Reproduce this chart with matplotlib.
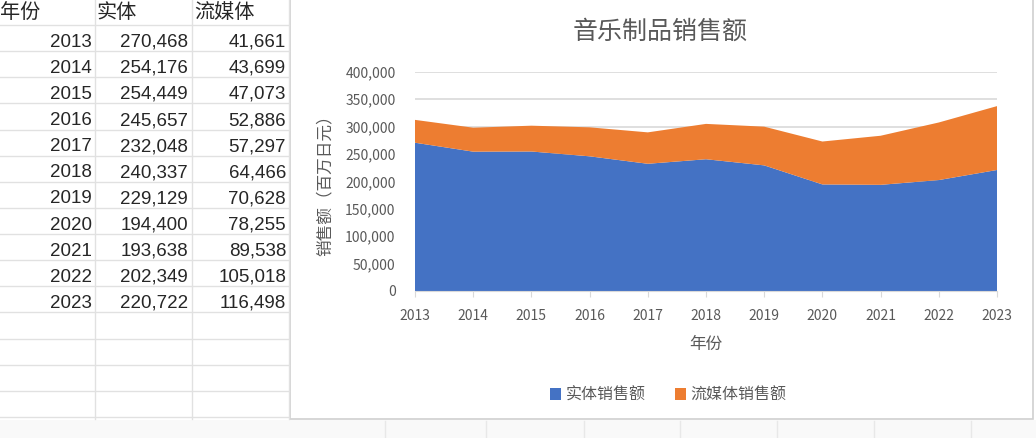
import numpy as np
import matplotlib.pyplot as plt
from matplotlib.patches import Rectangle

plt.rcParams['font.family'] = ['Noto Sans CJK SC', 'DejaVu Sans']

# 数据
years = [2013, 2014, 2015, 2016, 2017, 2018, 2019, 2020, 2021, 2022, 2023]
physical = [270468, 254176, 254449, 245657, 232048, 240337, 229129, 194400, 193638, 202349, 220722]
streaming = [41661, 43699, 47073, 52886, 57297, 64466, 70628, 78255, 89538, 105018, 116498]
headers = ['年份', '实体', '流媒体']

W, H = 1036, 438
fig = plt.figure(figsize=(W / 100, H / 100), dpi=100)

# 背景：表格区域 (像素坐标)
bg = fig.add_axes([0, 0, 1, 1])
bg.set_xlim(0, W)
bg.set_ylim(H, 0)
bg.axis('off')

grid_c = '#E1E1E1'
row_h = 26.13
col_x = [95, 192, 289]
for x in col_x:
    bg.plot([x, x], [0, 419], color=grid_c, lw=1)
for k in range(16):
    y = 25 + k * row_h
    bg.plot([0, 289], [y, y], color=grid_c, lw=1)

# 表头
txt_c = '#262626'
head_x = [0, 97, 194]
for hx, h in zip(head_x, headers):
    bg.text(hx, 23, h, fontsize=14.5, color=txt_c, ha='left', va='bottom')

# 表格数据
right_x = [92, 188, 286]
for i, yr in enumerate(years):
    y = 25 + (i + 1) * row_h - 0.5
    vals = [str(yr), f'{physical[i]:,}', f'{streaming[i]:,}']
    for rx, v in zip(right_x, vals):
        bg.text(rx, y, v, fontsize=13.5, color=txt_c, ha='right', va='bottom',
                family=['Liberation Sans', 'DejaVu Sans'])

# 图表边框
bg.add_patch(Rectangle((290, -2), 743, 421, facecolor='white', edgecolor='#D0D0D0', lw=1.2))
bg.add_patch(Rectangle((0, 420), W, 18, facecolor='#F9F9F9', edgecolor='none'))
for x in [385, 486, 584, 680, 777, 874, 971]:
    bg.plot([x, x], [421, 438], color='#E8E8E8', lw=1)

# 面积图
ax = fig.add_axes([415 / W, 1 - 291 / H, (997 - 415) / W, (291 - 71.7) / H])
ax.stackplot(years, physical, streaming, colors=['#4472C4', '#ED7D31'],
             labels=['实体销售额', '流媒体销售额'])
ax.set_xlim(years[0], years[-1])
ax.set_ylim(0, 400000)
ax.set_yticks(np.arange(0, 400001, 50000))
ax.yaxis.set_major_formatter(plt.FuncFormatter(lambda v, p: f'{int(v):,}'))
ax.set_xticks(years)
ax.grid(axis='y', color='#D9D9D9', lw=1.2)
ax.set_axisbelow(True)
for s in ['top', 'right', 'left']:
    ax.spines[s].set_visible(False)
ax.spines['bottom'].set_color('#D9D9D9')
ax.tick_params(axis='y', length=0, labelsize=10, labelcolor='#595959', pad=14)
ax.tick_params(axis='x', length=4, color='#D9D9D9', labelsize=10, labelcolor='#595959', pad=9)

ax.set_title('音乐制品销售额', fontsize=18, color='#595959', pad=24, x=(660 - 415) / (997 - 415))
ax.set_xlabel('年份', fontsize=12, color='#595959', labelpad=9)
ax.set_ylabel('销售额（百万日元）', fontsize=12, color='#595959', labelpad=8)

ax.legend(loc='upper center', bbox_to_anchor=(0.435, -0.37), ncol=2, frameon=False,
          fontsize=11.5, labelcolor='#595959', handlelength=0.7, handleheight=0.7,
          handletextpad=0.3, columnspacing=1.8)

fig.savefig('out.png', dpi=100)
